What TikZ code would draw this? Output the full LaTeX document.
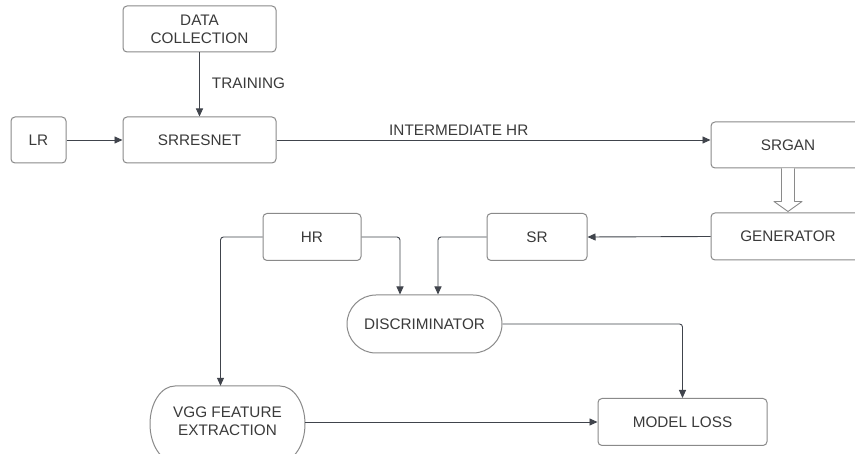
\documentclass[tikz,border=0pt]{standalone}
\usepackage{fontspec}
\setmainfont{Liberation Sans}
\usetikzlibrary{arrows.meta,calc}
\definecolor{boxline}{HTML}{8A8A8A}
\definecolor{arrline}{HTML}{40444C}
\definecolor{txt}{HTML}{3A3A3A}
\begin{document}
\begin{tikzpicture}[x=1pt,y=-1pt,
  every node/.style={font=\fontsize{15.3}{18}\selectfont, text=txt},
  box/.style={draw=boxline, line width=1pt, rounded corners=4pt, minimum width=#1, minimum height=46pt, inner sep=0pt, align=center},
  pill/.style={draw=boxline, line width=1pt, rounded corners=29pt, minimum width=155pt, minimum height=58pt, inner sep=0pt},
  outline/.style={draw=boxline, line width=1pt},
  arr/.style={draw=arrline, line width=0.9pt, -{Triangle[length=8pt,width=7pt]}, rounded corners=3pt},
  hollow/.style={draw=boxline, line width=0.9pt, fill=white, line join=round},
  lbl/.style={inner sep=0pt}]
\clip (0,0) rectangle (855,454);
\fill[white] (0,0) rectangle (855,454);

\node[box=153pt] (dc) at (199.5,29) {DATA\\COLLECTION};
\node[box=55pt] (lr) at (38.5,140) {LR};
\node[box=153pt] (srres) at (199.5,140) {SRRESNET};
\node[box=154pt] (srgan) at (788,145) {SRGAN};
\node[box=154pt, minimum height=47pt] (gen) at (788,236.5) {GENERATOR};
\node[box=100pt, minimum height=47pt] (sr) at (537,237) {SR};
\node[box=98pt, minimum height=47pt] (hr) at (312,237) {HR};
\node[pill] (disc) at (424.5,324) {DISCRIMINATOR};
\node[box=169pt, minimum height=47pt] (ml) at (682.5,422) {MODEL LOSS};
\node[minimum width=155pt, minimum height=76pt, inner sep=0pt, align=center] (vgg) at (227.5,424) {};
\node[align=center, inner sep=0pt] (vggt) at (227.5,421) {VGG FEATURE\\EXTRACTION};
\draw[outline] (175,386) -- (280,386) .. controls (293.8,386) and (305,403) .. (305,424)
  .. controls (305,445) and (293.8,462) .. (280,462) -- (175,462)
  .. controls (161.2,462) and (150,445) .. (150,424)
  .. controls (150,403) and (161.2,386) .. (175,386) -- cycle;

\draw[arr] (dc.south) -- node[lbl, pos=0.48, anchor=west, xshift=12pt] (train) {TRAINING} (srres.north);
\draw[arr] (lr.east) -- (srres.west);
\draw[arr] (srres.east) -- node[lbl, pos=0.42, anchor=base, yshift=4pt] (inter) {INTERMEDIATE HR} (srres.east -| srgan.west);
\draw[hollow] ($(srgan.south)+(-6.5,0)$) -- ($(gen.north)+(-6.5,-11)$) -- ($(gen.north)+(-14,-11)$) -- ($(gen.north)+(0,-1)$) -- ($(gen.north)+(14,-11)$) -- ($(gen.north)+(6.5,-11)$) -- ($(srgan.south)+(6.5,0)$);
\draw[arr] (gen.west) -- (sr.east);
\draw[arr] (sr.west) -| ($(disc.north)+(13.5,0)$);
\draw[arr] (hr.east) -| ($(disc.north)+(-24.5,0)$);
\draw[arr] (hr.west) -| ($(vgg.north)+(-7,0)$);
\draw[arr] (disc.east) -| (ml.north);
\draw[arr] (vgg.east |- ml.west) -- (ml.west);
\end{tikzpicture}
\end{document}
